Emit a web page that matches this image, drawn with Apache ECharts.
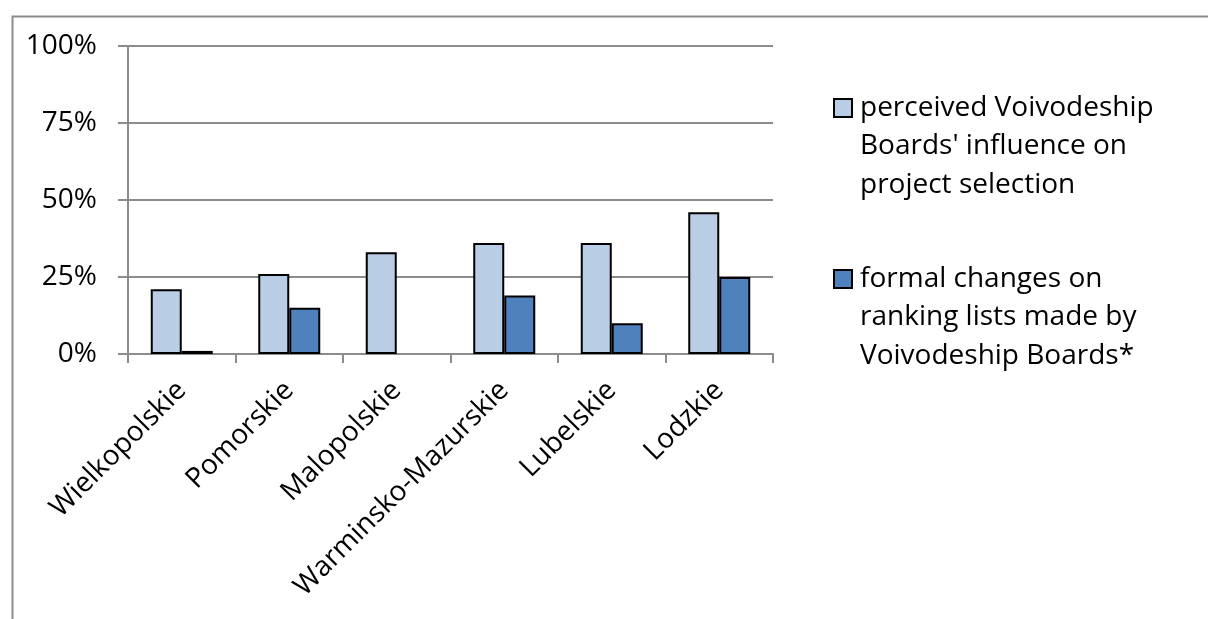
<!DOCTYPE html>
<html>
<head>
<meta charset="utf-8">
<script src="https://cdn.jsdelivr.net/npm/echarts@6/dist/echarts.min.js"></script>
<style>
  html, body { margin: 0; padding: 0; background: #fff; }
  #chart { width: 1208px; height: 619px; }
</style>
</head>
<body>
<div id="chart"></div>
<script>
// Voivodeship categories and the two percentage series
const regions = ['Wielkopolskie', 'Pomorskie', 'Malopolskie', 'Warminsko-Mazurskie', 'Lubelskie', 'Lodzkie'];
const perceivedInfluence = [21, 26, 33, 36, 36, 46];
const formalChanges = [1, 15, null, 19, 10, 25];
const seriesNames = [
  "perceived Voivodeship\nBoards' influence on\nproject selection",
  "formal changes on\nranking lists made by\nVoivodeship Boards*"
];
const yTicks = [0, 25, 50, 75, 100];

const FONT = '"Open Sans", sans-serif';
const FS = 28;
const LH = 38.5;
const GRID_GRAY = '#8c8c8c';

const chart = echarts.init(document.getElementById('chart'), null, { renderer: 'canvas' });

// Two blank lines ahead of each name keep the swatch level with the first text line
function legendBlock(name, iconCenterY) {
  return {
    data: [name],
    orient: 'vertical',
    left: 833,
    top: iconCenterY - 2.5 * LH,
    padding: 0,
    itemWidth: 18,
    itemHeight: 18,
    itemGap: 0,
    icon: 'rect',
    selectedMode: false,
    formatter: function (n) { return '\n\n' + n; },
    textStyle: {
      fontFamily: FONT,
      fontSize: FS,
      lineHeight: LH,
      color: '#000',
      padding: [0, 0, 0, 3]
    }
  };
}

chart.setOption({
  animation: false,
  backgroundColor: '#fff',
  textStyle: { fontFamily: FONT },
  graphic: [{
    type: 'rect',
    left: 10,
    top: 14,
    shape: { width: 1400, height: 800 },
    style: { fill: 'none', stroke: GRID_GRAY, lineWidth: 2 },
    silent: true,
    z: -1
  }],
  legend: [
    legendBlock(seriesNames[0], 108),
    legendBlock(seriesNames[1], 279)
  ],
  grid: { left: 128, right: 435, top: 46, bottom: 265, containLabel: false },
  xAxis: {
    type: 'category',
    data: regions,
    axisLine: { lineStyle: { color: GRID_GRAY, width: 2 } },
    axisTick: { show: true, alignWithLabel: false, length: 9, lineStyle: { color: GRID_GRAY, width: 2 } },
    axisLabel: {
      rotate: 45,
      interval: 0,
      margin: 32,
      fontFamily: FONT,
      fontSize: FS,
      color: '#000'
    }
  },
  yAxis: {
    type: 'value',
    min: 0,
    max: 100,
    interval: 25,
    axisLine: { show: true, lineStyle: { color: GRID_GRAY, width: 2 } },
    axisTick: { show: true, inside: false, length: 10, lineStyle: { color: GRID_GRAY, width: 2 } },
    splitLine: { show: true, lineStyle: { color: GRID_GRAY, width: 2 } },
    axisLabel: {
      margin: 31,
      fontFamily: FONT,
      fontSize: FS,
      color: '#000',
      formatter: function (v) { return yTicks.indexOf(v) >= 0 ? v + '%' : ''; }
    }
  },
  series: [
    {
      name: seriesNames[0],
      type: 'bar',
      data: perceivedInfluence,
      barWidth: 31,
      barGap: '0%',
      itemStyle: { color: '#B9CDE5', borderColor: '#000', borderWidth: 2 }
    },
    {
      name: seriesNames[1],
      type: 'bar',
      data: formalChanges,
      barWidth: 31,
      barGap: '0%',
      itemStyle: { color: '#4F81BD', borderColor: '#000', borderWidth: 2 }
    }
  ]
});
</script>
</body>
</html>
